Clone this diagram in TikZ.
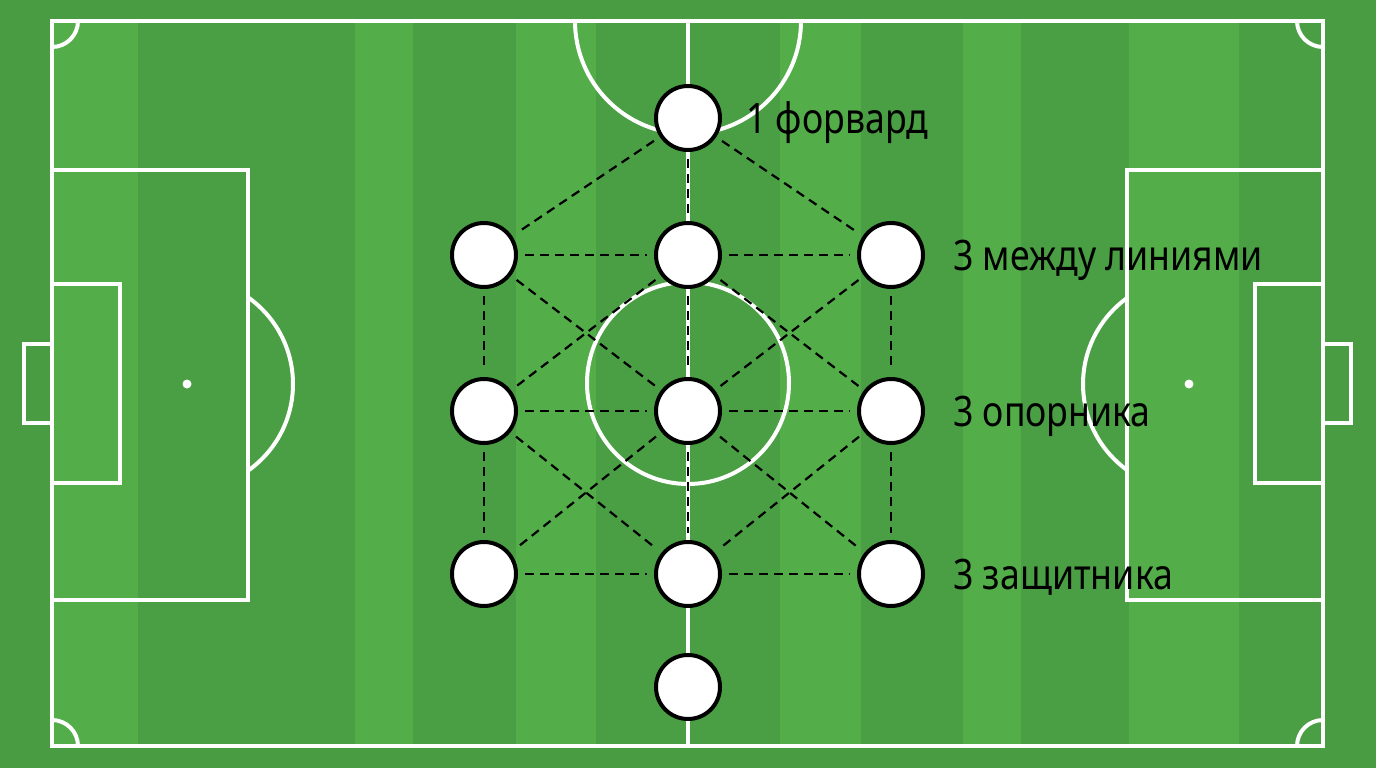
\documentclass[tikz,border=0pt]{standalone}
\usepackage{fontspec}
\newfontfamily\lblfont[FakeStretch=0.85]{Noto Sans}
\usetikzlibrary{positioning}
\definecolor{fieldBg}{HTML}{4A9C43}
\definecolor{fieldDk}{HTML}{4A9E43}
\definecolor{fieldLt}{HTML}{53AD49}
\tikzset{
  pitchline/.style = {draw=white, line width=4pt},
  plr_n/.style = {circle, draw=black, fill=white, line width=4pt,
    minimum size=64pt, inner sep=0pt},% player
  lnk_d/.style = {draw=black, line width=2.2pt, dash pattern=on 9pt off 6pt,
    shorten <=7pt, shorten >=7pt},% link between players
  lbl_t/.style = {font=\lblfont\fontsize{42}{46}\selectfont, inner sep=0pt,
    text height=30pt, text depth=0pt}
}

\begin{document}
\begin{tikzpicture}[x=1pt,y=-1pt]
\useasboundingbox (0,0) rectangle (1376,768);
% grass
\fill[fieldBg] (0,0) rectangle (1376,768);
\fill[fieldDk] (52,21) rectangle (1323,746);
\foreach \a/\b in {52/138, 355/413, 516/596, 780/861, 963/1021, 1129/1239}
  \fill[fieldLt] (\a,21) rectangle (\b,746);
% markings
\draw[pitchline] (52,21) rectangle (1323,746);
\draw[pitchline] (688,21) -- (688,746);
\draw[pitchline] (688,383) circle (101pt);
\draw[pitchline] (52,170) rectangle (248,600);
\draw[pitchline] (1127,170) rectangle (1323,600);
\draw[pitchline] (52,284) rectangle (120,483);
\draw[pitchline] (1255,284) rectangle (1323,483);
\draw[pitchline] (24,344) rectangle (52,423);
\draw[pitchline] (1323,344) rectangle (1351,423);
\fill[white] (187,384) circle (4.5pt);
\fill[white] (1189,384) circle (4.5pt);
\begin{scope}
  \clip (52,21) rectangle (1323,746);
  \draw[pitchline] (688,21) circle (113pt);
  \draw[pitchline] (52,21) circle (26pt);
  \draw[pitchline] (1323,21) circle (26pt);
  \draw[pitchline] (52,746) circle (26pt);
  \draw[pitchline] (1323,746) circle (26pt);
\end{scope}
\begin{scope}
  \clip (250,21) rectangle (688,746);
  \draw[pitchline] (187,384) circle (106pt);
\end{scope}
\begin{scope}
  \clip (688,21) rectangle (1125,746);
  \draw[pitchline] (1189,384) circle (106pt);
\end{scope}
% players
\node (fw) [plr_n] at (688,118) {};
\node (m1) [plr_n] at (484,255) {};
\node (m2) [plr_n] at (688,255) {};
\node (m3) [plr_n] at (891,255) {};
\node (o1) [plr_n] at (484,411) {};
\node (o2) [plr_n] at (688,411) {};
\node (o3) [plr_n] at (891,411) {};
\node (d1) [plr_n] at (484,574) {};
\node (d2) [plr_n] at (688,574) {};
\node (d3) [plr_n] at (891,574) {};
\node (gk) [plr_n] at (688,687) {};
% links
\draw[lnk_d] (fw) -- (m1);
\draw[lnk_d] (fw) -- (m2);
\draw[lnk_d] (fw) -- (m3);
\draw[lnk_d] (m1) -- (m2);
\draw[lnk_d] (m2) -- (m3);
\draw[lnk_d] (m1) -- (o1);
\draw[lnk_d] (m3) -- (o3);
\draw[lnk_d] (m1) -- (o2);
\draw[lnk_d] (m2) -- (o1);
\draw[lnk_d] (m2) -- (o2);
\draw[lnk_d] (m2) -- (o3);
\draw[lnk_d] (m3) -- (o2);
\draw[lnk_d] (o1) -- (o2);
\draw[lnk_d] (o2) -- (o3);
\draw[lnk_d] (o1) -- (d1);
\draw[lnk_d] (o3) -- (d3);
\draw[lnk_d] (o1) -- (d2);
\draw[lnk_d] (o2) -- (d1);
\draw[lnk_d] (o2) -- (d2);
\draw[lnk_d] (o2) -- (d3);
\draw[lnk_d] (o3) -- (d2);
\draw[lnk_d] (d1) -- (d2);
\draw[lnk_d] (d2) -- (d3);
% labels
\node (l_fw) [lbl_t, right=24pt of fw] {1 форвард};
\node (l_m) [lbl_t, right=28pt of m3] {3 между линиями};
\node (l_o) [lbl_t, right=28pt of o3] {3 опорника};
\node (l_d) [lbl_t, right=28pt of d3] {3 защитника};
\end{tikzpicture}
\end{document}
